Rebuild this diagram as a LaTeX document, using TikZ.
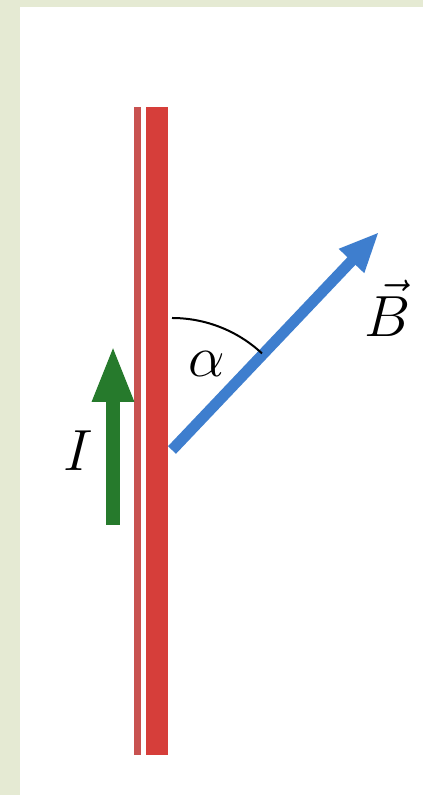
\documentclass[tikz,border=0pt]{standalone}
\usepackage{amsmath}
\usepackage{xcolor}
\usepackage{tikz}
\usetikzlibrary{positioning,calc,arrows.meta}

\definecolor{panelbg}{RGB}{229,234,211}
\definecolor{wirered}{RGB}{214,62,58}
\definecolor{wirethin}{RGB}{200,82,80}
\definecolor{fieldblue}{RGB}{62,126,206}
\definecolor{currgreen}{RGB}{38,122,44}

\begin{document}
\begin{tikzpicture}[x=1pt, y=1pt, >=Triangle,
    lbl/.style={inner sep=0pt, font=\huge, scale=2.8}]
  \fill[panelbg] (0,0) rectangle (423,795);
  \fill[white] (20,0) rectangle (423,788);

  \fill[wirethin] (134,40) rectangle (141,688);
  \fill[wirered] (146,40) rectangle (168,688);

  \coordinate (O) at (172,345);
  \coordinate (Bt) at (379,563);
  \coordinate (Ib) at (113,270);
  \coordinate (It) at (113,450);

  \draw[fieldblue, line width=11pt, -{Triangle[length=40pt, width=32pt]}] (O) -- (Bt);
  \draw[currgreen, line width=14pt, -{Triangle[length=57pt, width=38pt]}] (Ib) -- (It);
  \draw[black, line width=2pt] ($(O)+(0,132)$) arc[start angle=90, end angle=47, radius=132];

  \node[lbl] (al) at (207,431) {$\alpha$};
  \node[lbl] (I) at (78,344) {$I$};
  \node[lbl] (B) at (388,487) {$\vec{B}$};
\end{tikzpicture}
\end{document}
